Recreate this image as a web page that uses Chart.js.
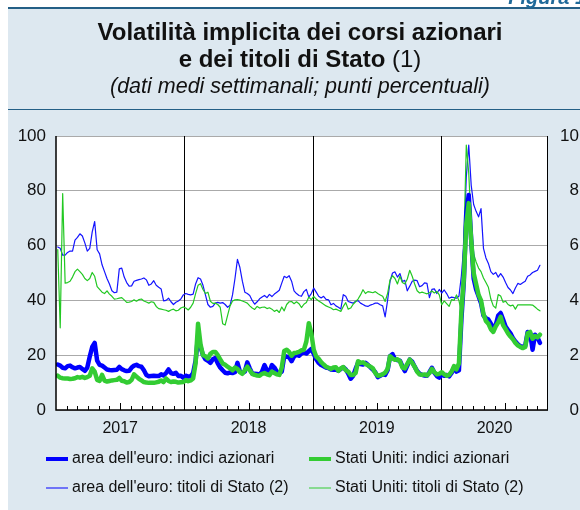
<!DOCTYPE html>
<html>
<head>
<meta charset="utf-8">
<script src="https://cdn.jsdelivr.net/npm/chart.js@4.4.1/dist/chart.umd.min.js"></script>
<style>
  html, body { margin: 0; padding: 0; background: #fff; }
  #chart { display: block; }
</style>
</head>
<body>
<canvas id="chart" width="580" height="510"></canvas>
<script>
const FONT = "'Liberation Sans', Arial, Helvetica, sans-serif";

const titleLine1 = "Volatilità implicita dei corsi azionari";
const titleLine2 = "e dei titoli di Stato ";
const titleNote = "(1)";
const subtitle = "(dati medi settimanali; punti percentuali)";
const figLabel = "Figura 1";

const seriesNames = [
  "area dell'euro: indici azionari",
  "Stati Uniti: indici azionari",
  "area dell'euro: titoli di Stato (2)",
  "Stati Uniti: titoli di Stato (2)"
];
const yearLabels = ["2017", "2018", "2019", "2020"];

// weekly averages, first week ends Fri 6 Jan 2017
// left scale
const euroStocks = [
  16.6,16.2,15.4,15.2,16,16.2,15.6,15.2,15.5,15.7,15,14.3,15.5,19.5,23,24.5,18,16.5,16.2,15.5,14.8,14.6,14.5,14.6,14.7,15.7,14.9,14.5,14.2,14.3,15.5,16.2,16.5,16,15.8,14.5,12.8,12.3,12.4,12.5,12.4,12.4,13,12.6,13.5,14.8,13.5,13.2,13.6,12.4,12.5,11.8,
  12.5,12.2,12.3,13.5,18,27,23,20,18.5,18,17.2,18.5,19,17,15.5,14.5,13.6,13.4,13.7,13.5,13.8,17.2,14,13.5,14,17.4,15.2,13.3,13.2,13.1,13,14,16.4,14.4,13.8,16.4,15.5,14,13.4,14,19.6,19.5,19.2,17.8,19.5,20.2,19.8,20.6,21,20.6,21.5,22.3,
  20.5,18.5,17.2,16.4,16,15.5,15.3,14.8,14.7,14.8,14.3,15,15.6,14.8,13.3,11.4,12.5,15,17.2,16.8,16.6,17.2,16.5,15.6,14.8,13.8,12,12.5,13,12.8,14.5,19.6,20.4,18.5,18.2,18,16,14.2,16.2,18.4,17.6,15.8,14.2,13.2,12.8,12.6,12.5,13.8,15.4,13.6,12.4,11.8,
  13,12.5,12.8,12.3,13.5,15.5,14,14.5,33,47,72,78.5,62,48,44,41.5,39,34.5,33.5,33,31.5,30,31,34.5,35.4,33,30.5,29.2,28,26.2,25,24,23.3,23,23.4,28.5,28,22,27.5,26.5,24.5
];
const usStocks = [
  12.5,11.8,11.6,11.5,11.5,11.3,11.4,11.6,12,11.8,12.1,11.7,12,12.5,15.2,14,11,10.6,12.8,10.7,10.4,10.6,10.8,10.9,11,11.7,10.7,10.5,10,10.2,11,13,12.2,11.4,10.8,10.2,10,9.9,9.9,9.9,10.1,10.3,10.8,10.2,11.5,10.6,10.2,10.4,10.3,10,10.1,10.2,
  10.9,10.5,10.8,11.5,17,31.5,24,20,19.6,18.8,20.5,21.2,21.2,20,18.5,17,16.5,15.8,15.2,14.5,15.5,15,13.8,13.2,14.5,15.8,14.5,13.2,12.8,12.6,12.5,13.2,13.5,13,12.7,14,13.5,13,12.8,15.5,21.5,22,21.2,19.8,20.8,20.9,21.2,21.8,22,25,31.7,28,
  22,19.5,18.7,17.5,16.6,15.8,15.4,15,15.5,15.6,14.3,15.2,15.7,14.5,14,12.8,12.8,13.5,17.8,17.2,17.4,16.8,16.3,15.8,15.2,13.5,12.5,12.7,13,13.6,15,19.6,18.8,18.3,18.5,17.8,15.5,15.2,16.8,18.4,17.2,15.8,14,13,12.8,13,12.6,13.5,15,13.8,13,13.2,
  13.8,13,12.5,12.8,14,16,14.8,17,36,48,68,75.5,62,50,46,42,40,35,32.5,31.5,29.5,28.5,30.5,32,34,31,29.5,28,26.8,25.8,24.5,23.6,23,22.6,23,28,28.5,26,27,26.5,27.5
];
// right scale
const euroBonds = [
  5.95,5.9,5.65,5.65,5.75,5.8,5.8,6.2,6.3,6.43,6.35,6.1,5.8,5.9,6.5,6.88,5.85,5.7,5.3,5.05,4.8,4.6,4.35,4.28,4.3,5.15,5.18,4.85,4.65,4.52,4.53,4.7,4.73,4.76,4.78,4.82,4.75,4.55,4.6,4.72,4.55,4.48,4.42,3.98,4.0,4.08,3.95,3.85,3.93,3.98,4.05,4.2,
  4.25,4.22,4.2,4.23,4.6,4.83,4.78,4.55,4.2,3.85,3.75,3.78,3.9,3.93,3.9,3.92,3.85,3.75,3.82,4.2,4.8,5.5,5.2,4.7,4.3,4.25,4.18,4.0,3.86,3.95,4.06,4.12,4.18,4.1,4.22,4.14,4.23,4.3,4.37,4.63,4.88,4.83,4.9,4.7,4.35,4.25,4.18,4.15,4.32,4.4,4.12,4.25,
  4.45,4.3,4.15,4.09,4.15,4.04,4.02,3.84,3.89,3.8,3.75,3.69,4.21,4.15,3.96,3.93,3.9,3.97,3.99,3.9,3.85,3.8,3.78,3.83,3.86,3.9,3.9,3.84,3.8,3.4,4.0,4.7,5.0,5.04,4.85,4.98,4.69,4.73,4.35,4.52,4.7,4.74,4.72,4.5,4.54,4.64,4.62,4.1,4.4,4.42,4.25,4.4,
  4.27,4.38,4.25,4.08,4.12,4.1,4.08,4.15,4.9,6.0,8.5,9.67,8.2,7.5,7.25,7.05,7.35,5.9,5.55,5.35,5.05,4.95,5.02,4.85,4.98,4.85,4.65,4.47,4.38,4.25,4.45,4.62,4.58,4.64,4.7,4.88,4.93,5.02,5.06,5.1,5.28
];
const usBonds = [
  5.85,3.0,7.9,4.63,4.65,4.7,4.85,5.05,5.14,5.05,4.95,4.8,4.72,4.8,5.02,4.88,4.5,4.4,4.3,4.25,4.35,4.23,4.15,4.05,4.06,4.08,4.1,4.02,3.93,3.94,3.96,4.02,3.97,4.03,4.05,3.98,3.94,3.9,3.95,3.93,3.78,3.7,3.68,3.66,3.64,3.6,3.65,3.68,3.62,3.64,3.72,3.76,
  3.72,3.65,3.75,3.9,4.25,4.55,4.61,4.4,4.25,4.3,3.97,3.89,3.9,3.85,3.75,3.15,3.1,3.45,3.8,3.98,4.02,4.03,4.01,3.98,3.94,3.9,3.8,3.72,3.67,3.78,3.72,3.75,3.76,3.7,3.73,3.68,3.6,3.65,3.56,3.76,3.62,3.85,3.95,3.96,3.88,3.95,3.88,3.74,3.86,3.92,4.12,4.03,
  4.15,4.05,3.98,3.92,3.86,3.8,3.76,3.72,3.66,3.68,3.64,3.6,3.78,3.92,3.68,3.72,3.86,3.95,4.05,4.2,4.39,4.25,4.32,4.3,4.28,4.32,4.25,4.2,4.15,3.96,4.25,4.75,4.9,4.8,4.6,4.88,4.65,4.6,4.78,5.1,4.88,4.6,4.35,4.27,4.3,4.27,4.24,4.28,4.34,4.27,4.33,4.2,
  3.84,3.98,3.88,3.78,4.03,4.0,4.2,4.0,3.55,6.0,9.67,8.64,6.8,5.7,5.4,5.18,5.05,4.82,4.65,4.48,4.05,3.8,3.72,4.21,4.16,3.93,3.97,3.85,3.8,3.83,3.68,3.84,3.84,3.84,3.84,3.84,3.84,3.83,3.76,3.68,3.62
];

// week-ending dates as fractional years
const firstWeek = Date.UTC(2017, 0, 6);
function yearFrac(ms) {
  const d = new Date(ms);
  const y = d.getUTCFullYear();
  const s = Date.UTC(y, 0, 1), e = Date.UTC(y + 1, 0, 1);
  return y + (ms - s) / (e - s);
}
const weeks = euroStocks.map((_, i) => yearFrac(firstWeek + i * 7 * 86400000));
const pts = arr => arr.map((v, i) => ({ x: weeks[i], y: v }));

const X_MIN = 2017, X_MAX = 2020 + 10 / 12;
const BLUE = "#0000ff", GREEN = "#33cc33";

const frame = {
  id: "frame",
  beforeDraw(chart) {
    const { ctx, chartArea: a, width, height } = chart;
    ctx.save();
    ctx.fillStyle = "#fff";
    ctx.fillRect(0, 0, width, height);
    ctx.fillStyle = "#dde8f0";
    ctx.fillRect(8, 8, width - 8, height - 8);
    ctx.fillStyle = "#245f86";
    ctx.fillRect(8, 7, width - 8, 2);
    ctx.fillRect(8, 109, width - 8, 1);
    ctx.fillStyle = "#fff";
    ctx.fillRect(a.left, a.top, a.right - a.left, a.bottom - a.top);

    // figure label, cut at the top edge
    ctx.fillStyle = "#1f6a9a";
    ctx.font = "bold italic 20px " + FONT;
    ctx.textAlign = "right";
    ctx.textBaseline = "alphabetic";
    ctx.fillText(figLabel, 586, 4);

    // titles
    ctx.fillStyle = "#111";
    ctx.textAlign = "center";
    ctx.font = "bold 24px " + FONT;
    ctx.fillText(titleLine1, 300, 40);
    const fb = "bold 24px " + FONT, fr = "24px " + FONT;
    ctx.font = fb;
    const w1 = ctx.measureText(titleLine2).width;
    ctx.font = fr;
    const w2 = ctx.measureText(titleNote).width;
    const x0 = 300 - (w1 + w2) / 2;
    ctx.textAlign = "left";
    ctx.font = fb;
    ctx.fillText(titleLine2, x0, 67);
    ctx.font = fr;
    ctx.fillText(titleNote, x0 + w1, 67);
    ctx.textAlign = "center";
    ctx.font = "italic 21.5px " + FONT;
    ctx.fillText(subtitle, 300, 93);
    ctx.restore();
  },
  beforeDatasetsDraw(chart) {
    const { ctx, chartArea: a, scales } = chart;
    ctx.save();
    ctx.strokeStyle = "#000";
    ctx.lineWidth = 1;
    ctx.beginPath();
    for (let y = 2018; y <= 2020; y++) {
      const x = Math.round(scales.x.getPixelForValue(y)) + 0.5;
      ctx.moveTo(x, a.top);
      ctx.lineTo(x, a.bottom);
    }
    ctx.stroke();
    ctx.restore();
  },
  afterDatasetsDraw(chart) {
    const { ctx, chartArea: a, scales } = chart;
    const xs = scales.x;
    ctx.save();
    ctx.strokeStyle = "#000";
    // frame
    ctx.lineWidth = 1.5;
    ctx.beginPath();
    ctx.moveTo(a.left, a.top);
    ctx.lineTo(a.left, a.bottom);
    ctx.lineTo(a.right, a.bottom);
    ctx.stroke();
    ctx.lineWidth = 1;
    ctx.beginPath();
    ctx.moveTo(a.right - 0.5, a.top);
    ctx.lineTo(a.right - 0.5, a.bottom);
    ctx.stroke();
    // monthly ticks, inward
    ctx.beginPath();
    for (let k = 1; k < 46; k++) {
      if (k % 12 === 0) continue;
      const x = Math.round(xs.getPixelForValue(X_MIN + k / 12)) + 0.5;
      const len = k % 12 === 6 ? 7 : 4;
      ctx.moveTo(x, a.bottom);
      ctx.lineTo(x, a.bottom - len);
    }
    ctx.stroke();
    // year labels
    ctx.fillStyle = "#111";
    ctx.font = "16px " + FONT;
    ctx.textAlign = "center";
    ctx.textBaseline = "middle";
    yearLabels.forEach((lab, i) => {
      const y0 = 2017 + i;
      const l = xs.getPixelForValue(Math.max(y0, X_MIN));
      const r = xs.getPixelForValue(Math.min(y0 + 1, X_MAX));
      ctx.fillText(lab, (l + r) / 2, 429);
    });
    // legend
    const items = [
      { name: seriesNames[0], color: BLUE, w: 4, x: 46, y: 459 },
      { name: seriesNames[1], color: GREEN, w: 4, x: 309, y: 459 },
      { name: seriesNames[2], color: BLUE, w: 1, x: 46, y: 488 },
      { name: seriesNames[3], color: GREEN, w: 1, x: 309, y: 488 }
    ];
    ctx.textAlign = "left";
    items.forEach(it => {
      ctx.strokeStyle = it.color;
      ctx.lineWidth = it.w;
      ctx.beginPath();
      ctx.moveTo(it.x, it.y);
      ctx.lineTo(it.x + 22, it.y);
      ctx.stroke();
      ctx.fillStyle = "#111";
      ctx.fillText(it.name, it.x + 26, it.y);
    });
    ctx.restore();
  }
};

new Chart(document.getElementById("chart"), {
  type: "line",
  data: {
    datasets: [
      { label: seriesNames[1], data: pts(usStocks), borderColor: GREEN, borderWidth: 4.5, yAxisID: "y", order: 0 },
      { label: seriesNames[0], data: pts(euroStocks), borderColor: BLUE, borderWidth: 4.5, yAxisID: "y", order: 1 },
      { label: seriesNames[3], data: pts(usBonds), borderColor: "#22c822", borderWidth: 1.2, yAxisID: "y2", order: 2 },
      { label: seriesNames[2], data: pts(euroBonds), borderColor: "#1414ff", borderWidth: 1.2, yAxisID: "y2", order: 3 }
    ]
  },
  options: {
    responsive: false,
    animation: false,
    layout: { padding: { top: 136, bottom: 100, left: 0, right: 1 } },
    elements: {
      point: { radius: 0 },
      line: { tension: 0, borderJoinStyle: "round", borderCapStyle: "round" }
    },
    plugins: { legend: { display: false }, tooltip: { enabled: false } },
    scales: {
      x: { type: "linear", display: false, min: X_MIN, max: X_MAX },
      y: {
        position: "left", min: 0, max: 100,
        afterFit(s) { s.width = 56; },
        ticks: { stepSize: 20, padding: 10, color: "#111", font: { family: FONT, size: 17 } },
        grid: { color: "#aaaaaa", drawTicks: false },
        border: { display: false }
      },
      y2: {
        position: "right", min: 0, max: 10,
        afterFit(s) { s.width = 31; },
        ticks: { stepSize: 2, crossAlign: "far", color: "#111", font: { family: FONT, size: 17 } },
        grid: { display: false, drawTicks: false },
        border: { display: false }
      }
    }
  },
  plugins: [frame]
});
</script>
</body>
</html>
